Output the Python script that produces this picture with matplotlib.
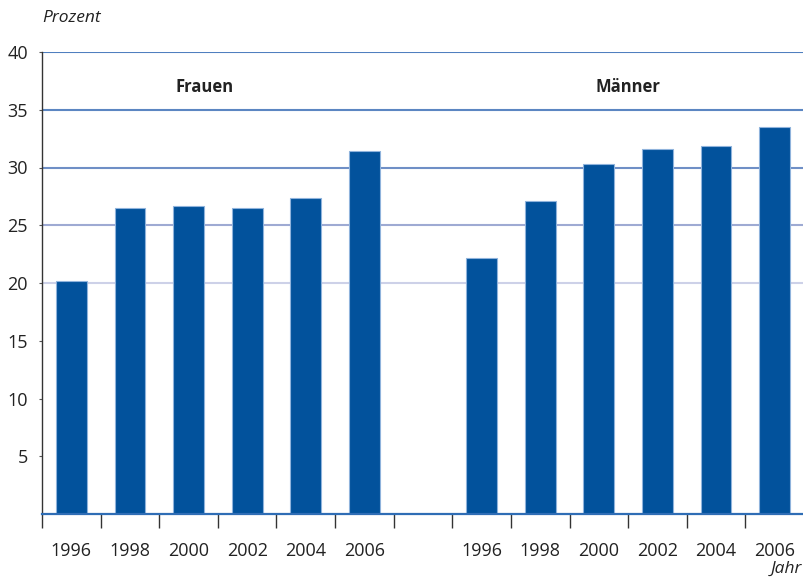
"""Anteil in Prozent nach Jahr, Frauen und Männer (Balkendiagramm)"""

import matplotlib
matplotlib.use("Agg")
import matplotlib.pyplot as plt
import numpy as np

plt.rcParams["font.family"] = ["Open Sans", "DejaVu Sans"]

# --- Daten ---
jahre = ["1996", "1998", "2000", "2002", "2004", "2006"]
frauen = [20.2, 26.5, 26.7, 26.5, 27.4, 31.4]
maenner = [22.2, 27.1, 30.3, 31.6, 31.9, 33.5]
gruppen = ["Frauen", "Männer"]
y_ticks = [5, 10, 15, 20, 25, 30, 35, 40]

BLAU = "#02529c"
KANTE = "#8fb3dc"

fig = plt.figure(figsize=(8.04, 5.78), dpi=100)
ax = fig.add_axes([42 / 804, 64 / 578, 762 / 804, 462 / 578])

# Positionen: je Jahr ein Feld, eine Leerstelle zwischen den Gruppen
pos_f = np.arange(len(jahre)) + 0.5
pos_m = np.arange(len(jahre)) + len(jahre) + 1.5
breite = 31 / 59

# Gitterlinien, nach unten hin blasser
grid_farben = {40: "#4f7fbf", 35: "#5b86c2", 30: "#6f8fc6", 25: "#9eaad3", 20: "#cdd1e8"}
for wert, farbe in grid_farben.items():
    ax.axhline(wert, color=farbe, lw=1.5, zorder=1)

ax.bar(pos_f, frauen, width=breite, color=BLAU, edgecolor=KANTE, linewidth=0.8, zorder=2)
ax.bar(pos_m, maenner, width=breite, color=BLAU, edgecolor=KANTE, linewidth=0.8, zorder=2)

ax.set_xlim(0, 762 / 59)
ax.set_ylim(0, 40)

# Achsen
for s in ["top", "right"]:
    ax.spines[s].set_visible(False)
ax.spines["left"].set_color("#333333")
ax.spines["left"].set_linewidth(1.0)
ax.spines["bottom"].set_color("#2f6db5")
ax.spines["bottom"].set_linewidth(1.6)
ax.spines["bottom"].set_zorder(3)

ax.set_yticks(y_ticks)
ax.set_yticklabels([str(v) for v in y_ticks], fontsize=13, color="#222222")
ax.tick_params(axis="y", length=2, width=0.8, color="#555555", pad=8)

ax.set_xticks(np.arange(0, 14))
ax.set_xticklabels([])
ax.tick_params(axis="x", which="major", length=10, width=1.0, color="#333333", direction="out")
ax.set_xticks(np.concatenate([pos_f, pos_m]), minor=True)
ax.set_xticklabels(jahre + jahre, minor=True, fontsize=13, color="#222222")
ax.tick_params(axis="x", which="minor", length=0, pad=20)

# Gruppentitel
ax.text(2.78, 37, gruppen[0], ha="center", va="center", fontsize=12, fontweight="bold", color="#222222")
ax.text(pos_m.mean(), 37, gruppen[1], ha="center", va="center", fontsize=12, fontweight="bold", color="#222222")

fig.text(42 / 804, 1 - 18 / 578, "Prozent", ha="left", va="center", fontsize=12.5, style="italic", color="#222222")
fig.text(802 / 804, 1 - 569 / 578, "Jahr", ha="right", va="center", fontsize=12.5, style="italic", color="#222222")

fig.savefig("out.png", dpi=100)
